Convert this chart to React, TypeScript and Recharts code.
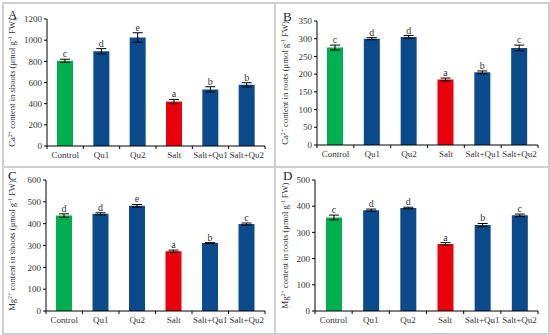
import React from 'react'
import { BarChart, Bar, XAxis, YAxis, Cell, ErrorBar, LabelList } from 'recharts'

const categories = ['Control', 'Qu1', 'Qu2', 'Salt', 'Salt+Qu1', 'Salt+Qu2']
const barColors = ['#00b050', '#0b4a8b', '#0b4a8b', '#e8000b', '#0b4a8b', '#0b4a8b']

const caShoots = [805, 895, 1025, 420, 535, 578]
const caShootsErr = [15, 25, 45, 20, 25, 20]
const caShootsLetters = ['c', 'd', 'e', 'a', 'b', 'b']
const caShootsTicks = [0, 200, 400, 600, 800, 1000, 1200]

const caRoots = [275, 300, 305, 185, 205, 274]
const caRootsErr = [7, 3, 4, 4, 4, 8]
const caRootsLetters = ['c', 'd', 'd', 'a', 'b', 'c']
const caRootsTicks = [0, 50, 100, 150, 200, 250, 300, 350]

const mgShoots = [437, 445, 482, 274, 311, 398]
const mgShootsErr = [8, 5, 6, 5, 2, 5]
const mgShootsLetters = ['d', 'd', 'e', 'a', 'b', 'c']
const mgShootsTicks = [0, 100, 200, 300, 400, 500, 600]

const mgRoots = [357, 385, 393, 256, 328, 365]
const mgRootsErr = [9, 4, 3, 5, 6, 5]
const mgRootsLetters = ['c', 'd', 'd', 'a', 'b', 'c']
const mgRootsTicks = [0, 100, 200, 300, 400, 500]

const serif = '"Liberation Serif", "Times New Roman", serif'

interface PanelProps {
  left: number
  top: number
  width: number
  height: number
  margin: { top: number; right: number; bottom: number; left: number }
  yWidth: number
  xHeight: number
  values: number[]
  errors: number[]
  letters: string[]
  ticks: number[]
  ion: string
  part: string
  panel: string
  labelX: number
}

function Panel(p: PanelProps) {
  const rows = categories.map((name, i) => ({
    name,
    value: p.values[i],
    err: p.errors[i],
    letter: p.letters[i],
  }))
  const plotLeft = p.margin.left + p.yWidth
  const plotWidth = p.width - plotLeft - p.margin.right
  const band = plotWidth / categories.length
  const plotTop = p.margin.top
  const plotBottom = p.height - p.margin.bottom - p.xHeight
  const midY = (plotTop + plotBottom) / 2

  // category label at the centre, small tick marks at the band edges
  const renderTick = (props: any) => {
    const { x, y, payload, index } = props
    return (
      <g>
        <text x={x} y={y + 12} textAnchor="middle" fontSize={9} fill="#333" fontFamily={serif}>
          {payload.value}
        </text>
        <line x1={x - band / 2} x2={x - band / 2} y1={y} y2={y + 3} stroke="#000" />
        {index === categories.length - 1 && (
          <line x1={x + band / 2} x2={x + band / 2} y1={y} y2={y + 3} stroke="#000" />
        )}
      </g>
    )
  }

  const renderLetter = (props: any) => {
    const { x, y, width, height, index } = props
    const row = rows[index]
    const errPx = (height * row.err) / row.value
    return (
      <text
        x={x + width / 2}
        y={y - errPx - 2}
        textAnchor="middle"
        fontSize={10}
        fill="#333"
        fontFamily={serif}
      >
        {row.letter}
      </text>
    )
  }

  return (
    <div style={{ position: 'absolute', left: p.left, top: p.top, width: p.width, height: p.height }}>
      <BarChart width={p.width} height={p.height} data={rows} margin={p.margin}>
        <XAxis
          dataKey="name"
          height={p.xHeight}
          interval={0}
          axisLine={{ stroke: '#000' }}
          tickLine={false}
          tickSize={0}
          tickMargin={0}
          tick={renderTick}
        />
        <YAxis
          width={p.yWidth}
          domain={[0, p.ticks[p.ticks.length - 1]]}
          ticks={p.ticks}
          interval={0}
          axisLine={{ stroke: '#000' }}
          tickLine={{ stroke: '#000' }}
          tickSize={3}
          tickMargin={2}
          tick={{ fontSize: 9, fill: '#333', fontFamily: serif }}
        />
        <Bar dataKey="value" barSize={16} isAnimationActive={false}>
          {rows.map((r, i) => (
            <Cell key={r.name} fill={barColors[i]} />
          ))}
          <ErrorBar dataKey="err" width={5} stroke="#000" strokeWidth={1} />
          <LabelList dataKey="letter" content={renderLetter} />
        </Bar>
      </BarChart>
      <svg
        width={p.width}
        height={p.height}
        style={{ position: 'absolute', left: 0, top: 0, pointerEvents: 'none' }}
      >
        <text x={8} y={plotTop} fontSize={13} fill="#222" fontFamily={serif}>
          {p.panel}
        </text>
        <text
          transform={`translate(${p.labelX},${midY}) rotate(-90)`}
          textAnchor="middle"
          fontSize={8.6}
          fill="#333"
          fontFamily={serif}
        >
          {p.ion}
          <tspan fontSize={5.8} dy={-3}>2+</tspan>
          <tspan dy={3}>{` content in ${p.part} (μmol g`}</tspan>
          <tspan fontSize={5.8} dy={-3}>-1</tspan>
          <tspan dy={3}> FW)</tspan>
        </text>
      </svg>
    </div>
  )
}

export default function App() {
  const line = '#cfcfcf'
  return (
    <div style={{ position: 'absolute', left: 0, top: 0, width: 550, height: 335, background: '#fff' }}>
      <Panel
        left={0}
        top={0}
        width={275}
        height={167}
        margin={{ top: 19, right: 10, bottom: 0, left: 0 }}
        yWidth={47}
        xHeight={21}
        values={caShoots}
        errors={caShootsErr}
        letters={caShootsLetters}
        ticks={caShootsTicks}
        ion="Ca"
        part="shoots"
        panel="A"
        labelX={15}
      />
      <Panel
        left={275}
        top={0}
        width={273}
        height={167}
        margin={{ top: 21, right: 10, bottom: 0, left: 0 }}
        yWidth={42}
        xHeight={22}
        values={caRoots}
        errors={caRootsErr}
        letters={caRootsLetters}
        ticks={caRootsTicks}
        ion="Ca"
        part="roots"
        panel="B"
        labelX={13}
      />
      <Panel
        left={0}
        top={167}
        width={275}
        height={166}
        margin={{ top: 13, right: 10, bottom: 0, left: 0 }}
        yWidth={46}
        xHeight={22}
        values={mgShoots}
        errors={mgShootsErr}
        letters={mgShootsLetters}
        ticks={mgShootsTicks}
        ion="Mg"
        part="shoots"
        panel="C"
        labelX={15}
      />
      <Panel
        left={275}
        top={167}
        width={273}
        height={166}
        margin={{ top: 13, right: 10, bottom: 0, left: 0 }}
        yWidth={40}
        xHeight={22}
        values={mgRoots}
        errors={mgRootsErr}
        letters={mgRootsLetters}
        ticks={mgRootsTicks}
        ion="Mg"
        part="roots"
        panel="D"
        labelX={13}
      />
      <div style={{ position: 'absolute', left: 2, top: 2, width: 544, height: 329, border: `2px solid ${line}` }} />
      <div style={{ position: 'absolute', left: 274, top: 2, width: 2, height: 331, background: line }} />
      <div style={{ position: 'absolute', left: 2, top: 166, width: 546, height: 2, background: line }} />
    </div>
  )
}
